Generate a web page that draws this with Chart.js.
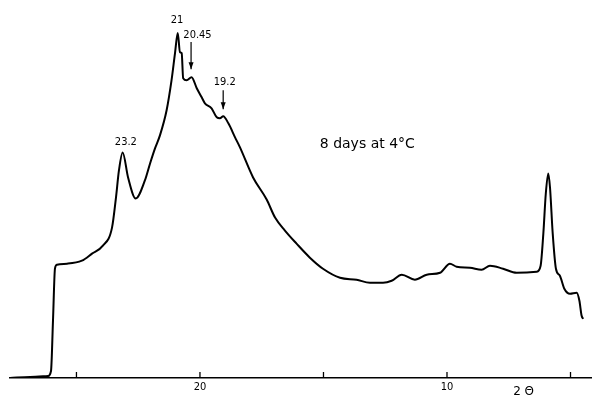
<!DOCTYPE html>
<html>
<head>
<meta charset="utf-8">
<script src="https://cdn.jsdelivr.net/npm/chart.js@4.4.1/dist/chart.umd.min.js"></script>
<style>
  html, body { margin: 0; padding: 0; background: #fff; }
  #wrap { width: 592px; height: 399px; }
</style>
</head>
<body>
<div id="wrap"><canvas id="xrd"></canvas></div>
<script>
// diffraction trace (2 theta in degrees, intensity in arbitrary units)
const twoTheta = [27.69, 26.88, 26.15, 26.03, 25.95, 25.87, 25.79, 25.38, 24.78, 24.37, 23.93, 23.56, 23.40, 23.28, 23.13,
  22.91, 22.60, 22.23, 22.02, 21.82, 21.62, 21.35, 21.15, 21.01, 20.90, 20.81, 20.74, 20.68, 20.54, 20.34,
  20.13, 19.93, 19.80, 19.53, 19.32, 19.19, 19.06, 18.85, 18.58, 18.38, 17.85, 17.30, 16.96, 16.56, 16.09,
  15.55, 15.02, 14.33, 13.66, 13.12, 12.59, 12.24, 11.83, 11.30, 10.82, 10.28, 9.88, 9.61, 9.07, 8.60,
  8.26, 7.73, 7.18, 6.37, 6.21, 6.10, 6.00, 5.90, 5.83, 5.72, 5.59, 5.43, 5.25, 5.02, 4.75, 4.64, 4.55, 4.48];
const intensity = [0, 1, 2, 7, 57, 109, 113, 114, 117, 124, 132, 150, 180, 207, 225,
  200, 179, 197, 214, 229, 242, 267, 297, 324, 344, 325, 324, 299, 297, 300,
  289, 280, 274, 269, 260, 259, 261, 254, 240, 230, 200, 178, 160, 147, 134,
  120, 109, 100, 98, 95, 95, 97, 103, 98, 103, 105, 114, 111, 110, 108,
  112, 109, 105, 106, 112, 144, 184, 204, 190, 144, 109, 102, 89, 84, 85, 77, 62, 59];

// marked peaks: label, position of label, whether it has an arrow
const peakLabels = ['23.2', '21', '20.45', '19.2'];
const peakLabelX = [23.0, 20.93, 20.1, 19.0];
const peakLabelY = [235, 357, 342, 295];
const arrowX = [null, null, 20.36, 19.06];
const arrowTop = [null, null, 335, 287];
const arrowBottom = [null, null, 308, 268];

const tickValues = [25, 20, 15, 10, 5];
const labelledTicks = [20, 10];

const annotate = {
  id: 'annotate',
  afterDatasetsDraw(chart) {
    const ctx = chart.ctx;
    const xs = chart.scales.x;
    const ys = chart.scales.y;
    const bottom = chart.chartArea.bottom;
    ctx.save();
    ctx.strokeStyle = '#000';
    ctx.fillStyle = '#000';

    // short tick marks pointing up from the axis
    ctx.lineWidth = 1.3;
    tickValues.forEach(v => {
      const px = xs.getPixelForValue(v);
      ctx.beginPath();
      ctx.moveTo(px, bottom);
      ctx.lineTo(px, bottom - 6);
      ctx.stroke();
    });

    // peak labels and arrows
    ctx.font = '11px "DejaVu Sans Condensed", "DejaVu Sans", sans-serif';
    ctx.textAlign = 'center';
    ctx.textBaseline = 'middle';
    peakLabels.forEach((t, i) => {
      ctx.fillText(t, xs.getPixelForValue(peakLabelX[i]), ys.getPixelForValue(peakLabelY[i]));
      if (arrowX[i] !== null) {
        const ax = xs.getPixelForValue(arrowX[i]);
        const y0 = ys.getPixelForValue(arrowTop[i]);
        const y1 = ys.getPixelForValue(arrowBottom[i]);
        ctx.lineWidth = 1.2;
        ctx.beginPath();
        ctx.moveTo(ax, y0);
        ctx.lineTo(ax, y1);
        ctx.stroke();
        ctx.beginPath();
        ctx.moveTo(ax - 2.5, y1 - 7);
        ctx.lineTo(ax, y1);
        ctx.lineTo(ax + 2.5, y1 - 7);
        ctx.closePath();
        ctx.fill();
      }
    });

    // sample note
    ctx.font = '14px "DejaVu Sans", sans-serif';
    ctx.textAlign = 'left';
    ctx.fillText('8 days at 4°C', xs.getPixelForValue(15.15), ys.getPixelForValue(233));

    // axis name
    ctx.font = '12px "DejaVu Sans", sans-serif';
    ctx.textAlign = 'center';
    ctx.fillText('2 Θ', xs.getPixelForValue(6.9), bottom + 14);
    ctx.restore();
  }
};

new Chart(document.getElementById('xrd'), {
  type: 'line',
  data: {
    datasets: [{
      data: twoTheta.map((t, i) => ({ x: t, y: intensity[i] })),
      borderColor: '#000',
      borderWidth: 2,
      pointRadius: 0,
      cubicInterpolationMode: 'monotone',
      fill: false
    }]
  },
  options: {
    responsive: true,
    maintainAspectRatio: false,
    animation: false,
    layout: { padding: { left: 10, right: 0, top: 0, bottom: 2 } },
    plugins: { legend: { display: false }, tooltip: { enabled: false } },
    scales: {
      x: {
        type: 'linear',
        reverse: true,
        min: 4.13,
        max: 27.69,
        border: { display: true, color: '#000', width: 1.5 },
        grid: { display: false, drawTicks: false },
        ticks: {
          stepSize: 5,
          includeBounds: false,
          autoSkip: false,
          maxRotation: 0,
          padding: 4,
          color: '#000',
          font: { size: 11, lineHeight: 1.0, family: '"DejaVu Sans Condensed", "DejaVu Sans", sans-serif' },
          callback: v => labelledTicks.includes(v) ? String(v) : ''
        }
      },
      y: {
        display: false,
        min: 0,
        max: 377
      }
    }
  },
  plugins: [annotate]
});
</script>
</body>
</html>
